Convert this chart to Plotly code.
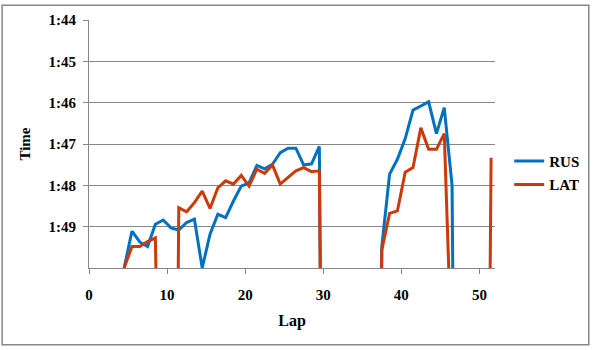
import plotly.graph_objects as go

# Lap numbers (each point plotted at the middle of its lap)
laps = list(range(1, 53))

# Lap times in seconds (None = not recorded; 130 = slow/pit lap, off chart)
rus = [None, None, None, None, 110.0, 109.11, 109.37, 109.48, 108.94, 108.84,
       109.03, 109.08, 108.90, 108.82, 110.0, 109.18, 108.70, 108.78, 108.38, 108.02,
       107.94, 107.52, 107.60, 107.49, 107.21, 107.10, 107.10, 107.51, 107.48, 107.06,
       130, None, None, None, None, None, 130, 109.49, 107.73, 107.37,
       106.87, 106.18, 106.08, 105.98, 106.75, 106.12, 108.00, 130, None, None,
       None, None]
lat = [None, None, None, None, 110.0, 109.48, 109.48, 109.36, 109.27, 130,
       130, 108.54, 108.64, 108.42, 108.14, 108.56, 108.06, 107.89, 107.97, 107.76,
       108.02, 107.61, 107.71, 107.51, 107.97, 107.81, 107.65, 107.57, 107.67, 107.65,
       130, None, None, None, None, None, 130, 109.57, 108.68, 108.62,
       107.68, 107.57, 106.61, 107.13, 107.13, 106.75, 112.4, 130, None, None,
       130, 107.33]

ytick_vals = [104, 105, 106, 107, 108, 109]
ytick_text = ["1:44", "1:45", "1:46", "1:47", "1:48", "1:49"]
xtick_vals = [0, 10, 20, 30, 40, 50]

xpos = [l - 0.5 for l in laps]

FONT = "Liberation Serif"
GRID = "#878787"
TICKFONT = dict(family=FONT, size=15, color="black", weight="bold")

fig = go.Figure()
fig.add_trace(go.Scatter(x=xpos, y=rus, name="RUS", mode="lines",
                         line=dict(color="#0070C0", width=3),
                         connectgaps=False, legendgroup="a"))
fig.add_trace(go.Scatter(x=xpos, y=lat, name="LAT", mode="lines",
                         line=dict(color="#CC3A0A", width=3),
                         connectgaps=False, legendgroup="b"))

fig.update_layout(
    width=597, height=350,
    margin=dict(l=89, r=97, t=16, b=82),
    paper_bgcolor="white", plot_bgcolor="white",
    font=dict(family=FONT, size=15, color="black", weight="bold"),
    legend=dict(x=1.035, y=0.497, xanchor="left", yanchor="top",
                font=dict(family=FONT, size=15, color="black", weight="bold"),
                tracegroupgap=1, itemwidth=30, bgcolor="rgba(0,0,0,0)"),
    xaxis=dict(range=[0, 52], tickvals=xtick_vals, showgrid=False,
               showline=True, linecolor=GRID, linewidth=1,
               ticks="outside", ticklen=5, tickcolor=GRID,
               tickfont=TICKFONT, ticklabelstandoff=8, zeroline=False,
               title=dict(text="Lap", standoff=12,
                          font=dict(family=FONT, size=16, weight="bold"))),
    yaxis=dict(range=[110, 104], tickvals=ytick_vals, ticktext=ytick_text,
               showgrid=True, gridcolor=GRID, gridwidth=1,
               showline=True, linecolor=GRID, linewidth=1,
               ticks="outside", ticklen=5, tickcolor=GRID,
               tickfont=TICKFONT, ticklabelstandoff=4, zeroline=False,
               title=dict(text="Time", standoff=14,
                          font=dict(family=FONT, size=15, weight="bold"))),
    shapes=[dict(type="rect", xref="paper", yref="paper",
                 x0=-0.214, x1=1.231, y0=-0.3095, y1=1.0595,
                 line=dict(color="#888888", width=1.5), fillcolor="rgba(0,0,0,0)",
                 layer="below")],
)

fig.write_html("out.html")
